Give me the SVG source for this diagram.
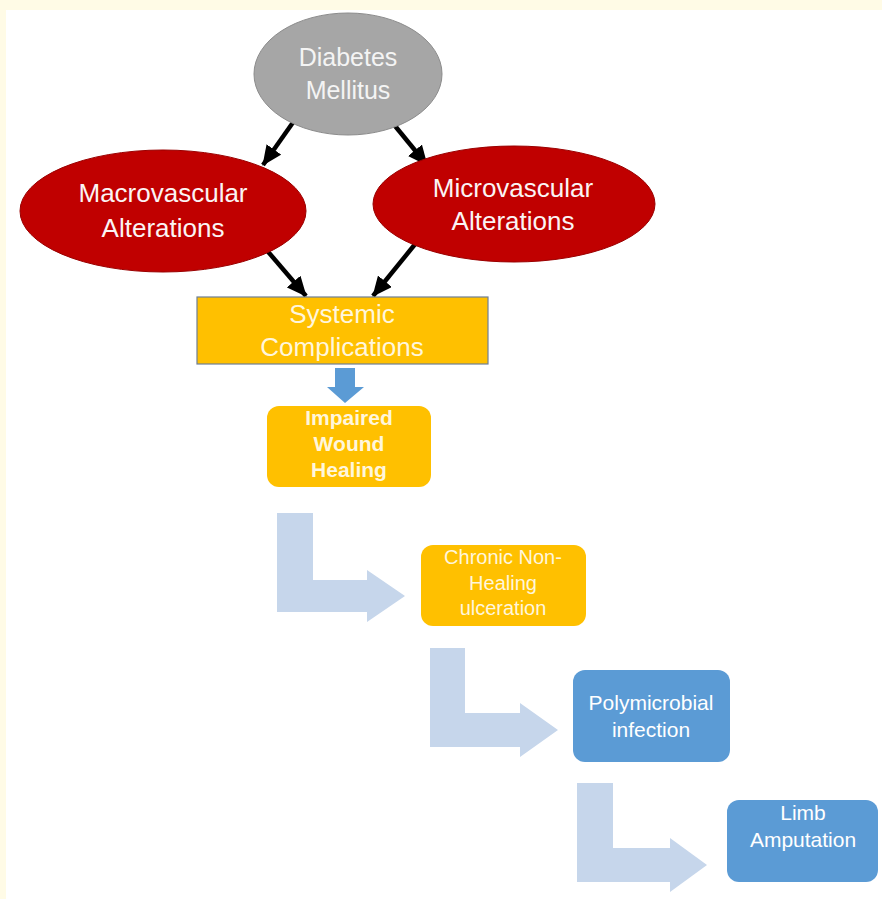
<svg xmlns="http://www.w3.org/2000/svg" width="882" height="899" viewBox="0 0 882 899">
<style>
.t{font-family:"Liberation Sans",Arial,sans-serif;text-anchor:middle}
.big{font-size:25px}
.mid{font-size:20px}
.wt{fill:#fbf4f4}
.yt{fill:#fff6dc}
.bt{fill:#ffffff}
.bent{fill:#c6d6eb}
.blk{stroke:#000;stroke-width:4.5;fill:none;marker-end:url(#ah)}
.yb{fill:#ffc000}
.bb{fill:#5b9bd5}
</style>
<defs>
<marker id="ah" markerUnits="userSpaceOnUse" markerWidth="20" markerHeight="18" viewBox="0 0 20 18" refX="19" refY="9" orient="auto">
<path d="M0,0 L20,9 L0,18 Z" fill="#000"/>
</marker>
</defs>
<rect x="0" y="0" width="882" height="899" fill="#fffbe6"/>
<rect x="6" y="10" width="876" height="889" fill="#ffffff"/>

<g id="connectors">
<path class="blk" d="M294,121 L263,165"/>
<path class="blk" d="M391,121 L427,165"/>
<path class="blk" d="M264,247 L306,296"/>
<path class="blk" d="M416,243 L373,296"/>
<path fill="#5b9bd5" d="M335,368 H355 V387 H364 L345,403 L327,387 H335 Z"/>
<path class="bent" d="M277,513 H313 V580 H367 V570 L405,596 L367,622 V612 H277 Z"/>
<path class="bent" d="M430,648 H465 V713 H520 V703 L558,730 L520,757 V747 H430 Z"/>
<path class="bent" d="M577,783 H613 V848 H670 V838 L707,865 L670,892 V882 H577 Z"/>
</g>

<g id="diabetes">
<ellipse cx="348" cy="74" rx="94" ry="61" fill="#a6a6a6" stroke="#8c8c8c" stroke-width="1"/>
<text class="t big" x="348" y="66" fill="#f4f4f4">Diabetes</text>
<text class="t big" x="348" y="99" fill="#f4f4f4">Mellitus</text>
</g>

<g id="macro">
<ellipse cx="163" cy="211" rx="143" ry="61" fill="#c00000" stroke="#9a0000" stroke-width="1"/>
<text class="t wt" style="font-size:26px" x="163" y="202">Macrovascular</text>
<text class="t wt" style="font-size:26px" x="163" y="237">Alterations</text>
</g>

<g id="micro">
<ellipse cx="514" cy="204" rx="141" ry="58" fill="#c00000" stroke="#9a0000" stroke-width="1"/>
<text class="t wt" style="font-size:26px" x="513" y="197">Microvascular</text>
<text class="t wt" style="font-size:26px" x="513" y="230">Alterations</text>
</g>

<g id="systemic">
<rect x="197" y="297" width="291" height="67" class="yb" stroke="#6e7f95" stroke-width="1.2"/>
<text class="t yt" style="font-size:26px" x="342" y="323">Systemic</text>
<text class="t yt" style="font-size:26px" x="342" y="356">Complications</text>
</g>

<g id="impaired">
<rect x="267" y="406" width="164" height="81" rx="12" class="yb"/>
<text class="t yt" style="font-size:21px;font-weight:bold" x="349" y="425">Impaired</text>
<text class="t yt" style="font-size:21px;font-weight:bold" x="349" y="451">Wound</text>
<text class="t yt" style="font-size:21px;font-weight:bold" x="349" y="477">Healing</text>
</g>

<g id="chronic">
<rect x="421" y="545" width="165" height="81" rx="12" class="yb"/>
<text class="t yt mid" x="503" y="564">Chronic Non-</text>
<text class="t yt mid" x="503" y="590">Healing</text>
<text class="t yt mid" x="503" y="615">ulceration</text>
</g>

<g id="poly">
<rect x="573" y="670" width="157" height="92" rx="12" class="bb"/>
<text class="t bt" style="font-size:21px" x="651" y="710">Polymicrobial</text>
<text class="t bt" style="font-size:21px" x="651" y="737">infection</text>
</g>

<g id="limb">
<rect x="727" y="800" width="151" height="82" rx="12" class="bb"/>
<text class="t bt" style="font-size:21px" x="803" y="820">Limb</text>
<text class="t bt" style="font-size:21px" x="803" y="847">Amputation</text>
</g>
</svg>
